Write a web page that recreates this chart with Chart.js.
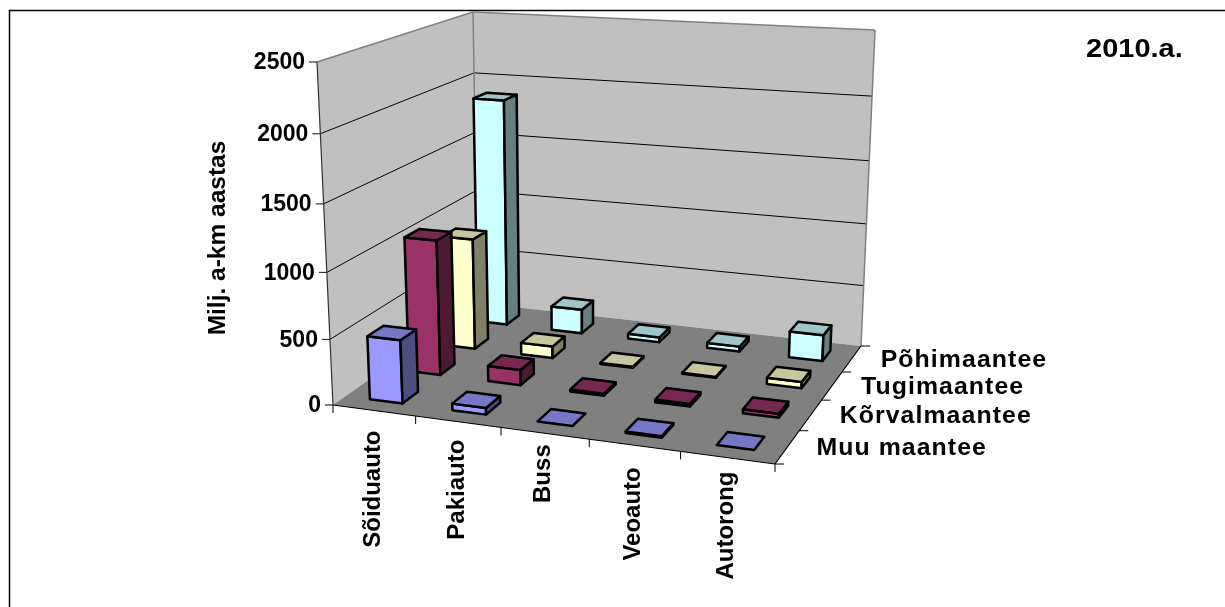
<!DOCTYPE html>
<html>
<head>
<meta charset="utf-8">
<style>
body { margin: 0; background: #fff; }
#wrap { width: 1225px; height: 607px; }
</style>
<script src="https://cdn.jsdelivr.net/npm/chart.js@4"></script>
</head>
<body>
<div id="wrap"><canvas id="chart" width="1225" height="607"></canvas></div>
<script>
// data
const categories = ["Sõiduauto", "Pakiauto", "Buss", "Veoauto", "Autorong"];
const seriesNames = ["Muu maantee", "Kõrvalmaantee", "Tugimaantee", "Põhimaantee"];
const muuMaantee = [485, 50, 0, 12, 0];
const korvalMaantee = [1060, 120, 15, 20, 30];
const tugiMaantee = [900, 95, 8, 8, 50];
const pohiMaantee = [1880, 200, 40, 40, 210];
const seriesColors = ["#9999FF", "#993366", "#FFFFCC", "#CCFFFF"];
const yTicks = [0, 500, 1000, 1500, 2000, 2500];

// box of the 3d plot on screen, [x, y, weight]. u = category, v = series, w = value
const box = {
	"000": [333, 405, 1], "100": [775, 464, 0.92],
	"010": [478, 303, 1.18], "110": [861, 346, 1.085],
	"001": [317, 62, 0.945], "101": [785, 92, 0.87],
	"011": [473, 12, 1.115], "111": [875, 30, 1.025],
};
// category labels don't sit evenly under the axis in the source
const catLabelNudge = [0, -2, -9, 2, -6];

function project(u, v, w) {
	let x = 0, y = 0, t = 0;
	for (const key in box) {
		const b = (key[0] === "1" ? u : 1 - u) * (key[1] === "1" ? v : 1 - v) * (key[2] === "1" ? w : 1 - w);
		const p = box[key];
		x += b * p[2] * p[0];
		y += b * p[2] * p[1];
		t += b * p[2];
	}
	return [x / t, y / t];
}

function face(ctx, pts, fill, stroke, lw) {
	ctx.beginPath();
	pts.forEach((p, i) => (i ? ctx.lineTo(p[0], p[1]) : ctx.moveTo(p[0], p[1])));
	ctx.closePath();
	if (fill) {
		ctx.fillStyle = fill;
		ctx.fill();
	}
	if (stroke) {
		ctx.strokeStyle = stroke;
		ctx.lineWidth = lw;
		ctx.lineJoin = "round";
		ctx.stroke();
	}
}

function seg(ctx, a, b, color, lw) {
	ctx.beginPath();
	ctx.moveTo(a[0], a[1]);
	ctx.lineTo(b[0], b[1]);
	ctx.strokeStyle = color;
	ctx.lineWidth = lw;
	ctx.stroke();
}

function shade(hex, k) {
	const n = parseInt(hex.slice(1), 16);
	const c = [(n >> 16) & 255, (n >> 8) & 255, n & 255].map((a) => Math.round(a * k));
	return "rgb(" + c.join(",") + ")";
}

// normalised position along a scale, 0..1
function normX(scale, i) {
	return (scale.getPixelForValue(i) - scale.left) / scale.width;
}
function normY(scale, val) {
	return (scale.bottom - scale.getPixelForValue(val)) / scale.height;
}

// bar controller that draws each bar as a box
class Bar3DController extends Chart.BarController {
	draw() {
		const chart = this.chart;
		const ctx = chart.ctx;
		const di = this.index;
		const values = this.getDataset().data;
		const color = this.getDataset().backgroundColor;
		const xs = chart.scales.x, ys = chart.scales.y, zs = chart.scales.z;
		const hu = 0.2 / xs.getLabels().length;
		const hv = 0.2 / zs.getLabels().length;
		const v0 = normX(zs, di) - hv, v1 = normX(zs, di) + hv;
		ctx.save();
		values.forEach((val, i) => {
			const u0 = normX(xs, i) - hu, u1 = normX(xs, i) + hu;
			const w = normY(ys, val);
			if (val > 0) {
				face(ctx, [project(u0, v0, 0), project(u1, v0, 0), project(u1, v0, w), project(u0, v0, w)], color, "#000", 2.5);
				face(ctx, [project(u1, v0, 0), project(u1, v1, 0), project(u1, v1, w), project(u1, v0, w)], shade(color, 0.5), "#000", 2.5);
			}
			face(ctx, [project(u0, v0, w), project(u1, v0, w), project(u1, v1, w), project(u0, v1, w)], shade(color, 0.78), "#000", 2.5);
		});
		ctx.restore();
	}
}
Bar3DController.id = "bar3d";
Bar3DController.defaults = Chart.BarController.defaults;
Chart.register(Bar3DController);

// bold text, sx stretches it sideways like the source image
function label(ctx, text, x, y, size, sx, rot, align, spacing) {
	ctx.save();
	ctx.translate(x, y);
	ctx.scale(sx, 1);
	if (rot) ctx.rotate(-Math.PI / 2);
	ctx.font = "bold " + size + "px 'Liberation Sans'";
	ctx.letterSpacing = (spacing || 0) + "px";
	ctx.fillStyle = "#000";
	ctx.textAlign = align;
	ctx.textBaseline = "middle";
	ctx.fillText(text, 0, 0);
	ctx.restore();
}

const scene = {
	id: "scene",
	beforeDatasetsDraw(chart) {
		const ctx = chart.ctx;
		const xs = chart.scales.x, ys = chart.scales.y, zs = chart.scales.z;
		ctx.save();

		// outer frame, top and left only
		seg(ctx, [9, 10.5], [1225, 10.5], "#000", 1.5);
		seg(ctx, [9.5, 10], [9.5, 607], "#000", 1.5);

		// walls and floor
		face(ctx, [project(0, 0, 0), project(0, 1, 0), project(0, 1, 1), project(0, 0, 1)], "#C0C0C0");
		face(ctx, [project(0, 1, 0), project(1, 1, 0), project(1, 1, 1), project(0, 1, 1)], "#C0C0C0");

		// value grid lines and tick labels
		ys.ticks.forEach((t) => {
			const w = normY(ys, t.value);
			if (t.value > 0 && t.value < 2500) {
				seg(ctx, project(0, 0, w), project(0, 1, w), "#000", 1);
				seg(ctx, project(0, 1, w), project(1, 1, w), "#000", 1);
			}
			const p = project(0, 0, w);
			seg(ctx, [p[0] - 8, p[1]], p, "#333", 1.2);
			label(ctx, String(t.value), p[0] - 12, p[1] + 1, 23, 1, false, "right");
		});

		face(ctx, [project(0, 0, 0), project(1, 0, 0), project(1, 1, 0), project(0, 1, 0)], "#808080");
		seg(ctx, project(0, 0, 1), project(0, 1, 1), "#808080", 1.5);
		seg(ctx, project(0, 1, 1), project(1, 1, 1), "#808080", 1.5);
		seg(ctx, project(0, 1, 0), project(0, 1, 1), "#808080", 1.5);
		seg(ctx, project(1, 1, 0), project(1, 1, 1), "#808080", 1.5);
		seg(ctx, project(0, 0, 0), project(0, 0, 1), "#333", 1.2);
		seg(ctx, project(0, 0, 0), project(1, 0, 0), "#000", 1.2);
		seg(ctx, project(1, 0, 0), project(1, 1, 0), "#000", 1.2);

		// category ticks and labels
		const nc = categories.length;
		for (let i = 0; i <= nc; i++) {
			const p = project(i / nc, 0, 0);
			seg(ctx, p, [p[0], p[1] + 8], "#000", 1);
		}
		xs.getLabels().forEach((name, i) => {
			const p = project(normX(xs, i), 0, 0);
			label(ctx, name, p[0] - 1, p[1] + 20 + catLabelNudge[i], 24, 1, true, "right");
		});

		// series ticks and labels
		const ns = seriesNames.length;
		for (let i = 0; i <= ns; i++) {
			const p = project(1, i / ns, 0);
			seg(ctx, p, [p[0] + 9, p[1]], "#000", 1);
		}
		zs.getLabels().forEach((name, i) => {
			const p = project(1, normX(zs, i), 0);
			label(ctx, name, p[0] + 29, p[1] + 2, 23, 1.08, false, "left", 1);
		});

		label(ctx, "Milj. a-km aastas", 218, 238, 24.5, 1, true, "center");
		label(ctx, "2010.a.", 1086, 50, 25, 1.16, false, "left");
		ctx.restore();
	},
};

const sets = [muuMaantee, korvalMaantee, tugiMaantee, pohiMaantee];

new Chart(document.getElementById("chart").getContext("2d"), {
	type: "bar3d",
	data: {
		labels: categories,
		datasets: seriesNames.map((name, i) => ({
			label: name,
			data: sets[i],
			backgroundColor: seriesColors[i],
		})),
	},
	options: {
		responsive: false,
		animation: false,
		plugins: { legend: { display: false }, tooltip: { enabled: false } },
		scales: {
			x: { type: "category", offset: true, display: false },
			z: { type: "category", axis: "x", labels: seriesNames, offset: true, display: false },
			y: {
				type: "linear",
				min: 0,
				max: 2500,
				display: false,
				afterBuildTicks: (s) => { s.ticks = yTicks.map((v) => ({ value: v })); },
			},
		},
	},
	plugins: [scene],
});
</script>
</body>
</html>
